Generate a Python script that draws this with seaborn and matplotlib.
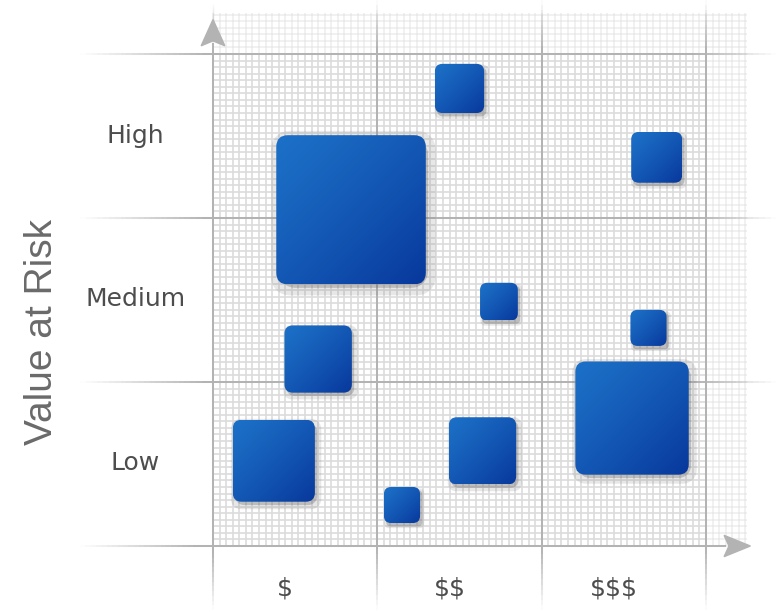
import numpy as np
import matplotlib
matplotlib.use("Agg")
import matplotlib.pyplot as plt
from matplotlib.patches import FancyBboxPatch, Polygon
from matplotlib.collections import LineCollection
from matplotlib.colors import to_rgba
from matplotlib.path import Path
from matplotlib.transforms import ScaledTranslation
import pandas as pd
import seaborn as sns

# categories
cost_labels = ["$", "$$", "$$$"]
risk_labels = ["Low", "Medium", "High"]

# items: position on the cost / risk grid and box size (in grid cells)
cost = [1.50, 2.70, 0.84, 1.74, 2.65, 0.64, 2.55, 0.37, 1.64, 1.15]
risk = [2.79, 2.37, 2.05, 1.49, 1.33, 1.14, 0.78, 0.52, 0.58, 0.25]
size = [0.30, 0.31, 0.91, 0.23, 0.22, 0.41, 0.69, 0.50, 0.41, 0.22]

LINE = "#b3b3b3"
FINE = "#dcdcdc"
TOP = np.array([0.11, 0.44, 0.78])
BOTTOM = np.array([0.03, 0.22, 0.61])
PT_PER_UNIT = 164.3 * 72 / 100


def faded_line(ax, p0, p1, fade0, fade1, lw=1.45):
    t = np.linspace(0, 1, 121)
    p0, p1 = np.array(p0, float), np.array(p1, float)
    pts = p0 + (p1 - p0) * t[:, None]
    segs = np.stack([pts[:-1], pts[1:]], axis=1)
    tm = (t[:-1] + t[1:]) / 2
    a = np.ones_like(tm)
    if fade0 > 0:
        a = np.minimum(a, tm / fade0)
    if fade1 > 0:
        a = np.minimum(a, (1 - tm) / fade1)
    cols = [to_rgba(LINE, float(v)) for v in a]
    ax.add_collection(LineCollection(segs, colors=cols, linewidths=lw,
                                     clip_on=False, zorder=2))


def rounded_square(r=0.2, n=8):
    # unit rounded square used as a scatter marker
    verts = []
    for cx, cy, a0 in [(1, 1, 0), (-1, 1, 90), (-1, -1, 180), (1, -1, 270)]:
        ang = np.deg2rad(np.linspace(a0, a0 + 90, n))
        verts += list(zip(cx * (1 - r) + r * np.cos(ang), cy * (1 - r) + r * np.sin(ang)))
    verts.append(verts[0])
    return Path(verts, closed=True)


def main():
    sns.set_theme(style="white")
    plt.rcParams["font.family"] = ["DejaVu Sans"]
    plt.rcParams["text.parse_math"] = False

    df = pd.DataFrame({"cost": cost, "risk": risk, "size": size})

    fig = plt.figure(figsize=(7.76, 6.13), dpi=100)
    ax = fig.add_axes([213 / 776, 67 / 613, 493 / 776, 492 / 613])
    ax.set_facecolor("none")

    # fine mesh
    fine = np.arange(0, 3.26, 1 / 25)
    inner = fine[fine <= 3.001]
    outer = fine[fine > 3.001]
    kw = dict(color=FINE, lw=1.2, zorder=1, clip_on=False)
    ax.vlines(inner, 0, 3, **kw)
    ax.hlines(inner, 0, 3, **kw)
    ax.vlines(outer, 0, 3.25, alpha=0.45, **kw)
    ax.hlines(outer, 0, 3.25, alpha=0.45, **kw)
    ax.vlines(inner, 3, 3.25, alpha=0.45, **kw)
    ax.hlines(inner, 3, 3.25, alpha=0.45, **kw)

    # major lines
    for k in range(1, 4):
        faded_line(ax, (-0.81, k), (3.43, k), 0.18, 0.12)
        faded_line(ax, (k, -0.39), (k, 3.33), 0.1, 0.08)
    faded_line(ax, (-0.81, 0), (3.12, 0), 0.18, 0)
    faded_line(ax, (0, -0.39), (0, 3.07), 0.1, 0)
    faded_line(ax, (0, 3.1), (0, 3.31), 0, 0.9, lw=1.0)

    # arrow heads
    ax.add_patch(Polygon([(0, 3.21), (0.072, 3.05), (0, 3.08), (-0.072, 3.05)],
                         closed=True, color=LINE, clip_on=False, zorder=3))
    ax.add_patch(Polygon([(3.27, 0), (3.11, 0.065), (3.14, 0), (3.11, -0.065)],
                         closed=True, color=LINE, clip_on=False, zorder=3))

    # soft drop shadows
    marker = rounded_square(0.22)
    shadow = df.assign(cost=df["cost"] + 0.014, risk=df["risk"] - 0.02)
    sns.scatterplot(data=shadow, x="cost", y="risk", marker=marker,
                    s=(shadow["size"] * PT_PER_UNIT * 1.1) ** 2, color="#7f7f7f",
                    alpha=0.18, linewidth=0, ax=ax, zorder=4, legend=False)
    sns.scatterplot(data=shadow, x="cost", y="risk", marker=marker,
                    s=(shadow["size"] * PT_PER_UNIT * 1.0) ** 2, color="#6f6f6f",
                    alpha=0.35, linewidth=0, ax=ax, zorder=4, legend=False)

    # gradient boxes
    u, v = np.meshgrid(np.linspace(0, 1, 64), np.linspace(0, 1, 64))
    t = np.clip((u + (1 - v)) / 2, 0, 1) ** 1.2
    grad = TOP[None, None, :] * (1 - t[..., None]) + BOTTOM[None, None, :] * t[..., None]
    for cx, cy, s in zip(df["cost"], df["risk"], df["size"]):
        x0, y0 = cx - s / 2, cy - s / 2
        box = FancyBboxPatch((x0, y0), s, s,
                             boxstyle=f"round,pad=0,rounding_size={0.035 + 0.04 * s:.3f}",
                             facecolor="none", edgecolor="none", zorder=5)
        ax.add_patch(box)
        im = ax.imshow(grad, extent=[x0, x0 + s, y0, y0 + s], origin="lower",
                       aspect="auto", zorder=5, interpolation="bilinear")
        im.set_clip_path(box)

    ax.set_xlim(0, 3)
    ax.set_ylim(0, 3)
    for sp in ax.spines.values():
        sp.set_visible(False)
    ax.grid(False)

    ax.set_xticks([0.5, 1.5, 2.5], cost_labels)
    ax.set_yticks([0.5, 1.5, 2.5], risk_labels)
    ax.tick_params(axis="x", length=0, pad=22, labelsize=18, labelcolor="#4d4d4d")
    ax.tick_params(axis="y", length=0, pad=56, labelsize=18, labelcolor="#4d4d4d")
    for lab in ax.get_yticklabels():
        lab.set_horizontalalignment("center")
        lab.set_transform(lab.get_transform() + ScaledTranslation(0, 3 / 100, fig.dpi_scale_trans))
    for lab in ax.get_xticklabels():
        lab.set_transform(lab.get_transform() + ScaledTranslation(-10 / 100, 0, fig.dpi_scale_trans))

    ax.set_xlabel("")
    ax.set_ylabel("Value at Risk", fontsize=28, color="#6a6a6a",
                  family=["Liberation Sans", "DejaVu Sans"])
    ax.yaxis.set_label_coords(-0.31, 0.435)

    fig.savefig("out.png", dpi=100, facecolor="white")


if __name__ == "__main__":
    main()
